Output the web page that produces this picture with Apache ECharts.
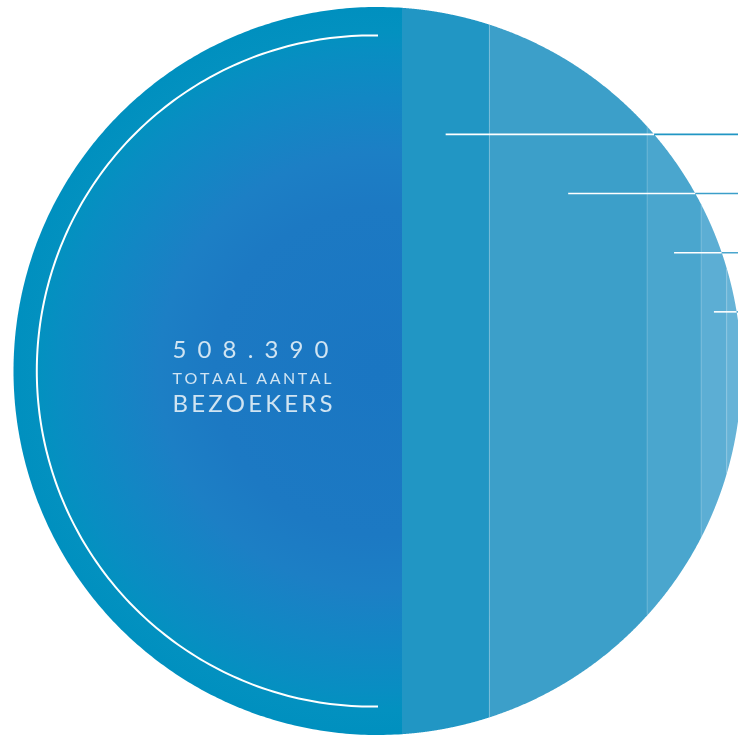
<!DOCTYPE html>
<html><head><meta charset="utf-8">
<style>html,body{margin:0;padding:0;background:#fff;overflow:hidden}#c{width:738px;height:736px}</style>
<script src="https://cdn.jsdelivr.net/npm/echarts@6/dist/echarts.min.js"></script>
</head><body><div id="c"></div>
<script>
// ---- data (share of the circle's area) ----
const segmentNames = ['Overige bezoekers', 'Segment 1', 'Segment 2', 'Segment 3', 'Segment 4', 'Segment 5'];
const visitors = [275970, 76040, 117660, 27620, 8630, 2470];
const segmentColors = ['#1a77c2', '#2196c4', '#3c9fc9', '#4aa6ce', '#5caed4', '#66b3d7'];
const centerTitle = 'TOTAAL AANTAL';
const centerSubtitle = 'BEZOEKERS';

// ---- helpers ----
const total = visitors.reduce((a, b) => a + b, 0);
const totalText = String(total).replace(/\B(?=(\d{3})+(?!\d))/g, '.');
function leftFrac(d) { return 1 - (Math.acos(d) - d * Math.sqrt(1 - d * d)) / Math.PI; }
function chordFor(frac) {
  let lo = -1, hi = 1;
  for (let i = 0; i < 60; i++) { const m = (lo + hi) / 2; if (leftFrac(m) < frac) lo = m; else hi = m; }
  return (lo + hi) / 2;
}
const bounds = [-1];
let cum = 0;
visitors.forEach((v, i) => { cum += v; bounds.push(i === visitors.length - 1 ? 1 : chordFor(cum / total)); });

const measureCtx = document.createElement('canvas').getContext('2d');
function spacedText(text, font, x0, width, y, fill) {
  measureCtx.font = font;
  const chars = text.split('');
  const ws = chars.map(c => measureCtx.measureText(c).width);
  const natural = ws.reduce((a, b) => a + b, 0);
  const gap = chars.length > 1 ? (width - natural) / (chars.length - 1) : 0;
  let x = x0;
  return chars.map((c, i) => {
    const el = { type: 'text', silent: true, z2: 20, style: { text: c, x: x, y: y, font: font, fill: fill, textAlign: 'left', textVerticalAlign: 'middle' } };
    x += ws[i] + gap;
    return el;
  });
}

function renderItem(params, api) {
  const i = params.dataIndex;
  const d0 = bounds[i], d1 = bounds[i + 1];
  const a0 = Math.acos(d0), a1 = Math.acos(d1);
  const pts = [];
  const N = 160;
  for (let k = 0; k <= N; k++) { const t = a1 + (a0 - a1) * k / N; pts.push(api.coord([Math.cos(t), Math.sin(t)])); }
  for (let k = 0; k <= N; k++) { const t = (2 * Math.PI - a0) + (a0 - a1) * k / N; pts.push(api.coord([Math.cos(t), Math.sin(t)])); }
  const c = api.coord([0, 0]);
  const R = c[1] - api.coord([0, 1])[1];
  let fill = segmentColors[i];
  if (i === 0) {
    fill = { type: 'radial', x: c[0], y: c[1], r: R, global: true, colorStops: [
      { offset: 0, color: '#1a76c2' }, { offset: 0.45, color: '#1c79c3' }, { offset: 0.6, color: '#1c7fc5' },
      { offset: 0.75, color: '#1287c4' }, { offset: 0.88, color: '#088ec2' }, { offset: 0.93, color: '#0391c0' },
      { offset: 1, color: '#0090bf' }] };
  }
  const children = [{ type: 'polygon', shape: { points: pts }, style: { fill: fill }, silent: true, z2: 1 }];
  if (i >= 2) {
    const h = Math.sqrt(1 - d0 * d0);
    const q0 = api.coord([d0, h]), q1 = api.coord([d0, -h]);
    children.push({ type: 'line', silent: true, z2: 5, shape: { x1: q0[0], y1: q0[1], x2: q1[0], y2: q1[1] },
      style: { stroke: 'rgba(255,255,255,0.16)', lineWidth: 1 } });
  }
  if (i === 0) {
    const arcPts = [];
    const acx = -0.014, ar = 0.922;
    const te = Math.acos((0.0014 - acx) / ar);
    for (let k = 0; k <= 200; k++) { const t = te + (2 * Math.PI - 2 * te) * k / 200; arcPts.push(api.coord([acx + ar * Math.cos(t), ar * Math.sin(t)])); }
    children.push({ type: 'polyline', silent: true, z2: 10, shape: { points: arcPts }, style: { stroke: '#ffffff', lineWidth: 2, fill: null } });
    const tx = c[0] - 205;
    const col = '#d0e4f2';
    children.push(...spacedText(totalText, '400 24px Lato', tx, 156, c[1] - 21, col));
    children.push(...spacedText(centerTitle, '400 16px Lato', tx, 159, c[1] + 7.5, col));
    children.push(...spacedText(centerSubtitle, '400 24px Lato', tx, 160, c[1] + 33.5, col));
  }
  if (i >= 1 && i <= 4) {
    const ly = (5 - i) * 0.1625;
    const mid = (d0 + d1) / 2;
    const edge = Math.sqrt(1 - ly * ly);
    const p0 = api.coord([mid, ly]), p1 = api.coord([edge, ly]), p2 = api.coord([1.3, ly]);
    children.push({ type: 'line', silent: true, z2: 12, shape: { x1: p0[0], y1: p0[1], x2: p1[0], y2: p1[1] }, style: { stroke: '#ffffff', lineWidth: 1.6 } });
    children.push({ type: 'line', silent: true, z2: 12, shape: { x1: p1[0], y1: p1[1], x2: p2[0], y2: p2[1] }, style: { stroke: segmentColors[i], lineWidth: 1.6 } });
  }
  return { type: 'group', children: children };
}

// unit circle, square scale: grid is 728px tall, cut at the right edge of the 738px page
const gridLeft = 13.5, gridTop = 7, gridSize = 728, pageWidth = 738;
const xMax = -1 + 2 * (pageWidth - gridLeft) / gridSize;

const chart = echarts.init(document.getElementById('c'), null, { renderer: 'canvas' });
chart.setOption({
  animation: false,
  backgroundColor: '#ffffff',
  grid: { left: gridLeft, top: gridTop, right: 0, height: gridSize },
  xAxis: { type: 'value', min: -1, max: xMax, show: false },
  yAxis: { type: 'value', min: -1, max: 1, show: false },
  series: [{
    type: 'custom',
    clip: false,
    renderItem: renderItem,
    data: visitors.map((v, i) => ({ name: segmentNames[i], value: [i, v] })),
    encode: { x: -1, y: -1 }
  }]
});
</script>
</body></html>
